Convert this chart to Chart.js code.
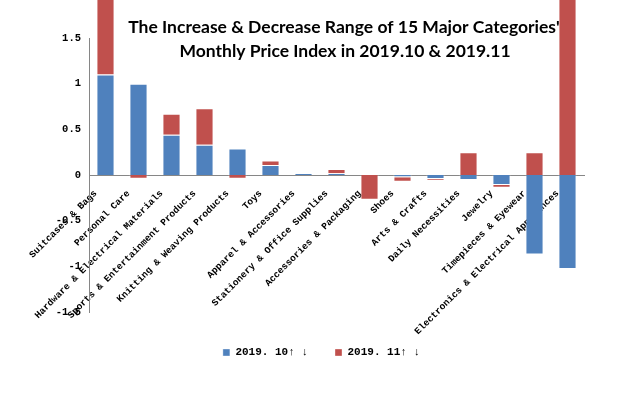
<!DOCTYPE html>
<html>
<head>
<meta charset="utf-8">
<script src="https://cdn.jsdelivr.net/npm/chart.js@4/dist/chart.umd.min.js"></script>
<style>
  html, body { margin: 0; padding: 0; background: #ffffff; }
  #wrap { width: 622px; height: 399px; }
</style>
</head>
<body>
<div id="wrap"><canvas id="chartCanvas" width="622" height="399"></canvas></div>
<script>
// categories and the two monthly series
const categories = [
    'Suitcases & Bags', 'Personal Care', 'Hardware & Electrical Materials',
    'Sports & Entertainment Products', 'Knitting & Weaving Products', 'Toys',
    'Apparel & Accessories', 'Stationery & Office Supplies', 'Accessories & Packaging',
    'Shoes', 'Arts & Crafts', 'Daily Necessities', 'Jewelry',
    'Timepieces & Eyewear', 'Electronics & Electrical Appliances'
];
const oct2019 = [1.10, 1.00, 0.44, 0.33, 0.29, 0.11, 0.02, 0.02, 0, -0.025, -0.045, -0.055, -0.11, -0.87, -1.03];
const nov2019 = [1.00, -0.04, 0.23, 0.40, -0.04, 0.05, 0, 0.045, -0.27, -0.05, -0.015, 0.25, -0.03, 0.25, 2.20];
const seriesNames = ['2019. 10\u2191 \u2193', '2019. 11\u2191 \u2193'];
const titleLines = [
    "The Increase & Decrease Range of 15 Major Categories'",
    'Monthly Price Index in 2019.10 & 2019.11'
];
const yTicks = [-1.5, -1, -0.5, 0, 0.5, 1, 1.5];

const monoFont = "'Liberation Mono', monospace";

// two-line title drawn inside the plot, like the original;
// also nudges the legend a little right and down
const layoutPlugin = {
    id: 'insideTitle',
    afterLayout(chart) {
        const lg = chart.legend;
        lg.left += 10;
        lg.right += 10;
        lg.top += 8;
        lg.bottom += 8;
    },
    afterDraw(chart) {
        const ctx = chart.ctx;
        ctx.save();
        ctx.font = "bold 17.5px Lato, 'Liberation Sans', sans-serif";
        ctx.fillStyle = '#000000';
        ctx.textAlign = 'center';
        ctx.textBaseline = 'middle';
        ctx.fillText(titleLines[0], 344, 27);
        ctx.fillText(titleLines[1], 345, 51);
        ctx.restore();
    }
};

const ctx = document.getElementById('chartCanvas').getContext('2d');
new Chart(ctx, {
    type: 'bar',
    data: {
        labels: categories,
        datasets: [{
            label: seriesNames[0],
            data: oct2019,
            backgroundColor: '#4F81BD',
            borderColor: 'rgba(255,255,255,0.35)',
            borderWidth: 1,
            clip: false
        }, {
            label: seriesNames[1],
            data: nov2019,
            backgroundColor: '#C0504D',
            borderColor: 'rgba(255,255,255,0.35)',
            borderWidth: 1,
            clip: false
        }]
    },
    options: {
        responsive: false,
        animation: false,
        layout: { padding: { left: 39, right: 38, top: 38, bottom: 39 } },
        datasets: { bar: { categoryPercentage: 1, barPercentage: 0.55 } },
        plugins: {
            legend: {
                position: 'bottom',
                labels: {
                    boxWidth: 7,
                    boxHeight: 7,
                    padding: 27,
                    color: '#000000',
                    font: { family: monoFont, size: 11, weight: 'bold' }
                }
            },
            title: { display: false },
            tooltip: { enabled: false }
        },
        scales: {
            x: {
                stacked: true,
                position: { y: 0 },
                z: 1,
                grid: { display: false, drawTicks: false },
                border: { display: true, color: '#868686', width: 1 },
                ticks: {
                    autoSkip: false,
                    minRotation: 45,
                    maxRotation: 45,
                    padding: 13,
                    labelOffset: -10,
                    color: '#000000',
                    font: { family: monoFont, size: 9.5, weight: 'bold' }
                }
            },
            y: {
                stacked: true,
                min: -1.5,
                max: 1.5,
                afterFit(scale) { scale.width = 50; },
                afterBuildTicks(scale) { scale.ticks = yTicks.map(v => ({ value: v })); },
                grid: { display: false, drawTicks: false },
                border: { display: true, color: '#868686', width: 1 },
                ticks: {
                    padding: 8,
                    color: '#000000',
                    font: { family: monoFont, size: 10.5, weight: 'bold' },
                    callback: (value) => String(value)
                }
            }
        }
    },
    plugins: [layoutPlugin]
});
</script>
</body>
</html>
